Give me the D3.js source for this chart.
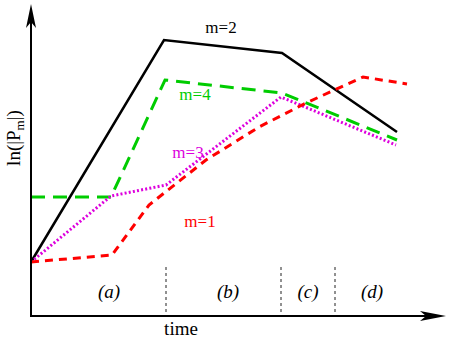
<!DOCTYPE html>
<html><head><meta charset="utf-8">
<script src="https://cdn.jsdelivr.net/npm/d3@7"></script>
</head><body style="margin:0">
<script>
// time offsets (abstract units) and ln|Pm| values
const m2X = [0, 133, 251, 366];
const m2Y = [54, 276, 263, 184];
const m4X = [0, 80, 134, 251, 366];
const m4Y = [119, 119, 236, 223, 176];
const m3X = [0, 80, 135, 250, 365];
const m3Y = [54, 120, 131, 219, 171];
const m1X = [0, 81, 118, 175, 228, 275, 332, 376];
const m1Y = [54, 61, 111, 156, 189, 213, 239, 232];
const phaseBounds = [135, 250, 304];
const phaseLabels = ["(a)", "(b)", "(c)", "(d)"];
const phaseLabelX = [78, 197, 277, 341];
const seriesNames = ["m=2", "m=4", "m=3", "m=1"];
const seriesLabelPos = [[190, 283], [164, 216], [157, 158], [169, 89]];

const W = 450, H = 338;
const svg = d3.select("body").append("svg").attr("width", W).attr("height", H)
  .style("display", "block").attr("font-family", "Liberation Serif");
const x = d3.scaleLinear().domain([0, 415]).range([31, 446]);
const y = d3.scaleLinear().domain([0, 314]).range([316, 2]);
const serifText = (sel) => sel.attr("font-family", "Liberation Serif");

// phase dividers
svg.selectAll("line.div").data(phaseBounds).join("line")
  .attr("x1", d => x(d)).attr("x2", d => x(d))
  .attr("y1", y(49)).attr("y2", y(0))
  .attr("stroke", "#222").attr("stroke-width", 1).attr("stroke-dasharray", "3,3");

phaseLabels.forEach((d, i) => {
  svg.append("text").call(serifText)
    .attr("x", x(phaseLabelX[i])).attr("y", y(18))
    .attr("text-anchor", "middle")
    .attr("font-style", "italic").attr("font-size", 19).text(d);
});

const line = d3.line().x(d => x(d[0])).y(d => y(d[1]));
const zip = (a, b) => a.map((v, i) => [v, b[i]]);
const series = [
  {xs: m2X, ys: m2Y, color: "#000", w: 2.5, dash: null},
  {xs: m4X, ys: m4Y, color: "#00cc00", w: 3, dash: "14,8"},
  {xs: m3X, ys: m3Y, color: "#dd00dd", w: 3, dash: "2,2.2"},
  {xs: m1X, ys: m1Y, color: "#ff0000", w: 3, dash: "8,6"}
];
series.forEach(s => {
  svg.append("path").attr("d", line(zip(s.xs, s.ys)))
    .attr("fill", "none").attr("stroke", s.color).attr("stroke-width", s.w)
    .attr("stroke-dasharray", s.dash).attr("stroke-linejoin", "miter");
});
series.forEach((s, i) => {
  svg.append("text").call(serifText)
    .attr("x", x(seriesLabelPos[i][0])).attr("y", y(seriesLabelPos[i][1]))
    .attr("text-anchor", "middle").attr("font-size", 17)
    .attr("fill", s.color).text(seriesNames[i]);
});

// axes
svg.append("line").attr("x1", x(0)).attr("x2", x(0)).attr("y1", y(0) + 1).attr("y2", y(300))
  .attr("stroke", "#000").attr("stroke-width", 2);
svg.append("line").attr("x1", x(0) - 1).attr("x2", x(400)).attr("y1", y(0)).attr("y2", y(0))
  .attr("stroke", "#000").attr("stroke-width", 2);
// arrow heads
const ax = x(0), ty = y(312);
svg.append("path").attr("d", `M${ax},${ty} L${ax + 5},${ty + 24} L${ax},${ty + 18} L${ax - 5},${ty + 24} Z`).attr("fill", "#000");
const tx = x(415), ay = y(0);
svg.append("path").attr("d", `M${tx},${ay} L${tx - 26},${ay - 5} L${tx - 20},${ay} L${tx - 26},${ay + 5} Z`).attr("fill", "#000");

// axis labels
svg.append("text").call(serifText).attr("x", x(150)).attr("y", 335).attr("text-anchor", "middle")
  .attr("font-size", 19).text("time");
const yl = svg.append("text").call(serifText).attr("transform", `translate(20,${y(178)}) rotate(-90)`)
  .attr("text-anchor", "middle").attr("font-size", 19);
yl.append("tspan").text("ln(|P");
yl.append("tspan").attr("font-size", 13).attr("dy", 4).text("m");
yl.append("tspan").attr("dy", -4).text("|)");
</script>
</body></html>
